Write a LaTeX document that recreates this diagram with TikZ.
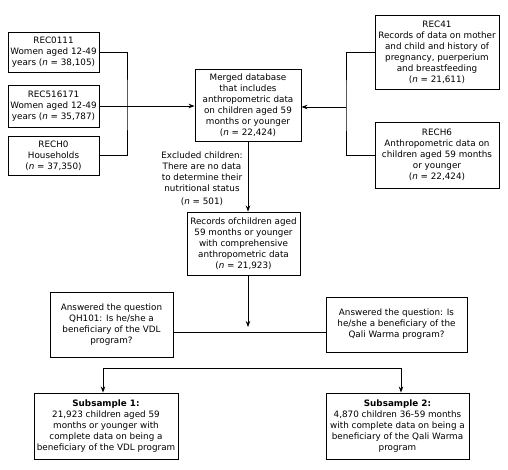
\documentclass[tikz,border=0pt]{standalone}
\usepackage{fontspec}
\setmainfont{DejaVu Sans}
\usetikzlibrary{arrows.meta}
\begin{document}
\begin{tikzpicture}[x=1pt,y=-1pt,
  box/.style={draw, line width=0.9pt, align=center, inner sep=0pt, font=\fontsize{8.8}{11}\selectfont},
  lbl/.style={align=center, inner sep=0pt, font=\fontsize{8.8}{11}\selectfont},
  conn/.style={line width=0.8pt},
  arr/.style={conn, -{Stealth[length=6pt,width=4.5pt]}}]
\useasboundingbox (0,0) rectangle (508,469);
% left sources
\node[box, minimum width=91, minimum height=40] (r1) at (53.5,52) {REC0111\\Women aged 12-49\\years (\textit{n} = 38,105)};
\node[box, minimum width=91, minimum height=42] (r2) at (53.5,106) {REC516171\\Women aged 12-49\\years (\textit{n} = 35,787)};
\node[box, minimum width=91, minimum height=39] (r3) at (53.5,155.5) {RECH0\\Households\\(\textit{n} = 37,350)};
% merged
\node[box, minimum width=106, minimum height=72] (m) at (248,105) {Merged database\\that includes\\anthropometric data\\on children aged 59\\months or younger\\(\textit{n} = 22,424)};
% right sources
\node[box, minimum width=124, minimum height=74] (r41) at (437,52) {REC41\\Records of data on mother\\and child and history of\\pregnancy, puerperium\\and breastfeeding\\(\textit{n} = 21,611)};
\node[box, minimum width=124, minimum height=66] (r6) at (437,155) {RECH6\\Anthropometric data on\\children aged 59 months\\or younger\\(\textit{n} = 22,424)};
% excluded
\node[lbl] (ex) at (202,179) {Excluded children:\\There are no data\\to determine their\\nutritional status\\[2pt](\textit{n} = 501)};
% records
\node[box, minimum width=113, minimum height=63] (rc) at (243.5,243.5) {Records ofchildren aged\\59 months or younger\\with comprehensive\\anthropometric data\\(\textit{n} = 21,923)};
% questions
\node[box, minimum width=123, minimum height=65] (q1) at (111.5,324.5) {Answered the question\\QH101: Is he/she a\\beneficiary of the VDL\\program?};
\node[box, minimum width=141, minimum height=55] (q2) at (396.5,324.5) {Answered the question: Is\\he/she a beneficiary of the\\Qali Warma program?};
% subsamples
\node[box, minimum width=144, minimum height=66] (s1) at (106,426) {\textbf{Subsample 1:}\\21,923 children aged 59\\months or younger with\\complete data on being a\\beneficiary of the VDL program};
\node[box, minimum width=143, minimum height=66] (s2) at (397.5,426) {\textbf{Subsample 2:}\\4,870 children 36-59 months\\with complete data on being a\\beneficiary of the Qali Warma\\program};
% connectors
\coordinate (lb) at (127,106);
\draw[conn] (r1.east) -| (lb) |- (r3.east);
\draw[arr] (r2.east) -- (r2.east -| m.west);
\coordinate (rb) at (346,107);
\draw[conn] (r41.west) -| (rb) |- (r6.west);
\draw[arr] (rb) -- (rb -| m.east);
\draw[arr] (m.south) -- (m.south |- rc.north);
\coordinate (ta) at (248,327);
\draw[arr] (rc.south -| ta) -- (ta);
\coordinate (h) at (248,332);
\draw[conn] (q1.east |- h) -- (q2.west |- h);
\coordinate (bl) at (103,368);
\coordinate (br) at (401,368);
\draw[conn] (bl) -- (br);
\draw[arr] (bl) -- (bl |- s1.north);
\draw[arr] (br) -- (br |- s2.north);
\end{tikzpicture}
\end{document}
